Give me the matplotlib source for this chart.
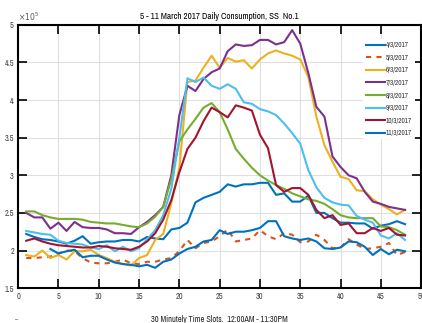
import matplotlib
matplotlib.use("Agg")
import matplotlib.pyplot as plt
from matplotlib.ticker import FuncFormatter
import numpy as np

plt.rcParams['font.family'] = ['Archivo Narrow', 'DejaVu Sans']

slots = list(range(1, 49))

d0403 = [2.22, 2.18, 2.15, 2.14, 2.12, 2.09, 2.13, 2.19, 2.09, 2.11,
         2.12, 2.12, 2.14, 2.14, 2.12, 2.18, 2.16, 2.15, 2.28, 2.30,
         2.37, 2.64, 2.70, 2.74, 2.78, 2.88, 2.85, 2.88, 2.88, 2.90,
         2.90, 2.74, 2.76, 2.65, 2.65, 2.73, 2.50, 2.50, 2.43, 2.37,
         2.37, 2.36, 2.36, 2.29, 2.33, 2.35, 2.39, 2.35]
d0503 = [1.90, 1.90, 1.91, 1.92, 1.96, 2.00, 1.99, 1.90, 1.84, 1.83,
         1.83, 1.85, 1.88, 1.83, 1.82, 1.85, 1.85, 1.88, 1.90, 1.99,
         2.14, 2.03, 2.10, 2.12, 2.19, 2.28, 2.12, 2.14, 2.16, 2.27,
         2.19, 2.15, 2.23, 2.21, 2.11, 2.12, 2.21, 2.14, 2.03, 2.04,
         2.15, 2.08, 2.02, 2.03, 2.05, 2.10, 1.94, 1.98]
d0603 = [1.94, 1.92, 2.00, 1.90, 1.94, 1.88, 1.99, 1.99, 2.01, 1.94,
         1.90, 1.85, 1.82, 1.80, 1.90, 1.94, 2.14, 2.22, 2.63, 3.10,
         4.24, 4.26, 4.43, 4.59, 4.43, 4.56, 4.51, 4.53, 4.42, 4.54,
         4.62, 4.66, 4.62, 4.59, 4.54, 4.31, 3.78, 3.40, 3.18, 2.98,
         2.95, 2.80, 2.79, 2.68, 2.61, 2.55, 2.48, 2.54]
d0703 = [2.50, 2.44, 2.44, 2.29, 2.37, 2.26, 2.38, 2.31, 2.30, 2.30,
         2.28, 2.23, 2.23, 2.22, 2.31, 2.38, 2.47, 2.58, 3.00, 3.80,
         4.19, 4.12, 4.28, 4.37, 4.42, 4.65, 4.74, 4.72, 4.73, 4.80,
         4.80, 4.74, 4.77, 4.93, 4.75, 4.36, 3.91, 3.78, 3.25, 3.11,
         3.00, 2.96, 2.78, 2.65, 2.62, 2.58, 2.56, 2.54]
d0803 = [2.52, 2.52, 2.47, 2.44, 2.42, 2.42, 2.42, 2.41, 2.38, 2.37,
         2.36, 2.36, 2.34, 2.32, 2.31, 2.36, 2.45, 2.58, 2.95, 3.45,
         3.61, 3.75, 3.90, 3.96, 3.84, 3.61, 3.35, 3.22, 3.10, 3.00,
         2.93, 2.87, 2.82, 2.76, 2.72, 2.68, 2.66, 2.62, 2.55, 2.47,
         2.44, 2.43, 2.43, 2.43, 2.32, 2.31, 2.27, 2.21]
d0903 = [2.26, 2.24, 2.22, 2.21, 2.13, 2.10, 2.09, 2.08, 2.04, 2.02,
         2.07, 1.99, 2.05, 1.99, 2.03, 2.15, 2.27, 2.47, 2.82, 3.50,
         4.29, 4.24, 4.30, 4.19, 4.15, 4.21, 4.15, 3.97, 3.95, 3.88,
         3.85, 3.80, 3.69, 3.56, 3.42, 3.07, 2.84, 2.70, 2.64, 2.61,
         2.60, 2.46, 2.41, 2.37, 2.20, 2.16, 2.23, 2.14]
d1003 = [2.13, 2.16, 2.12, 2.09, 2.07, 2.06, 2.05, 2.04, 2.04, 2.06,
         2.05, 2.03, 2.02, 2.01, 2.05, 2.12, 2.23, 2.41, 2.67, 3.04,
         3.35, 3.50, 3.72, 3.90, 3.84, 3.77, 3.93, 3.90, 3.86, 3.54,
         3.36, 2.87, 2.78, 2.83, 2.83, 2.74, 2.54, 2.43, 2.47, 2.34,
         2.36, 2.23, 2.23, 2.30, 2.26, 2.30, 2.21, 2.20]
d1103 = [np.nan, np.nan, np.nan, 2.02, 1.96, 1.99, 2.01, 1.91, 1.93, 1.93,
         1.88, 1.84, 1.82, 1.81, 1.79, 1.81, 1.77, 1.85, 1.88, 1.96,
         2.02, 2.05, 2.12, 2.14, 2.27, 2.22, 2.25, 2.25, 2.27, 2.30,
         2.39, 2.39, 2.19, 2.16, 2.14, 2.16, 2.12, 2.03, 2.02, 2.04,
         2.12, 2.11, 2.05, 1.94, 2.02, 1.95, 2.01, 1.99]

labels = ['4/3/2017', '5/3/2017', '6/3/2017', '7/3/2017', '8/3/2017',
          '9/3/2017', '10/3/2017', '11/3/2017']
series = [d0403, d0503, d0603, d0703, d0803, d0903, d1003, d1103]
colors = ['#0072BD', '#D95319', '#EDB120', '#7E2F8E', '#77AC30',
          '#4DBEEE', '#A2142F', '#0072BD']
styles = ['-', '--', '-', '-', '-', '-', '-', '-']

fig = plt.figure(figsize=(4.22, 3.23), dpi=100)
ax = fig.add_axes([0.043, 0.108, 0.955, 0.815])

for y, lab, c, ls in zip(series, labels, colors, styles):
    kw = dict(dashes=(2.5, 2.5)) if ls == '--' else {}
    ax.plot(slots, np.array(y) * 1e5, color=c, ls=ls, lw=1.5, label=lab, **kw)

ax.set_xlim(0, 50)
ax.set_ylim(1.5e5, 5e5)
ax.set_xticks(range(0, 51, 5))
ax.set_yticks(np.arange(1.5e5, 5.01e5, 0.5e5))
ax.yaxis.set_major_formatter(FuncFormatter(lambda v, p: f"{v / 1e5:g}"))
ax.text(0.0, 1.008, r'$\times10^{5}$', transform=ax.transAxes, fontsize=5.5,
        color='#555555', ha='left', va='bottom')

ax.grid(True, color='#e0e0e0', lw=0.8)
ax.set_axisbelow(True)
ax.tick_params(direction='in', length=6.5, width=1.2, top=True, right=True,
               labelsize=6, labelcolor='#444444', pad=3)
for s in ax.spines.values():
    s.set_linewidth(1.5)

ax.set_title('5 - 11 March 2017 Daily Consumption, SS  No.1', fontsize=6.5,
             fontweight='bold', pad=4)
ax.set_xlabel('30 Minutely Time Slots.  12:00AM - 11:30PM', fontsize=6,
              labelpad=10, color='#222222')

leg = ax.legend(loc='upper left', bbox_to_anchor=(0.856, 0.945), fontsize=5.2,
                frameon=True, handlelength=2.6, handletextpad=0.15,
                labelspacing=0.9, borderpad=0.4, borderaxespad=0)
leg.get_frame().set_edgecolor('none')
leg.get_frame().set_facecolor('white')
leg.get_frame().set_alpha(1)
for t in leg.get_texts():
    t.set_color('#333333')

fig.text(0.035, 0.002, '–', fontsize=5, color='#555555')

fig.savefig('out.png', dpi=100)
